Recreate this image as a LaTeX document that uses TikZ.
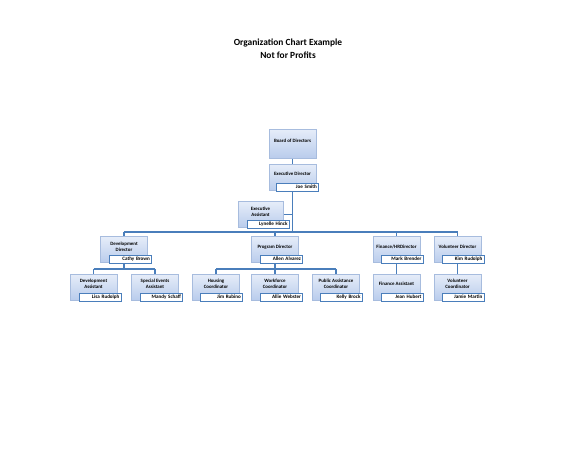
\documentclass[tikz,border=0pt]{standalone}
\usepackage{fontspec}
\setmainfont{Carlito}
\usepackage{tikz}
\usetikzlibrary{backgrounds}

\definecolor{boxtop}{HTML}{E6EDF9}
\definecolor{boxbottom}{HTML}{B9CCEC}
\definecolor{boxline}{HTML}{A7BCDE}
\definecolor{linkblue}{HTML}{4A7EBB}

\tikzset{
  orgbox/.style={rectangle, draw=boxline, top color=boxtop, bottom color=boxbottom,
    minimum width=47pt, minimum height=26pt, text depth=6pt, inner sep=1pt,
    align=center, font=\fontsize{4.9}{5.7}\selectfont\bfseries},
  nametag/.style={rectangle, draw=linkblue, fill=white, line width=0.5pt,
    anchor=south east, text width=39pt, align=right, inner xsep=1.5pt, inner ysep=1.6pt,
    text height=3.6pt, text depth=1.1pt,
    font=\fontsize{5.1}{5.7}\selectfont\bfseries},
  link/.style={draw=linkblue, line width=1.1pt}
}

\begin{document}
\begin{tikzpicture}[x=1pt, y=-1pt]
  \useasboundingbox (0,0) rectangle (585,450);
  % title
  \node[font=\fontsize{9.4}{12.8}\selectfont\bfseries, align=center] (title) at (288,48.5)
    {Organization Chart Example\\Not for Profits};
  % top of the chart
  \node[orgbox, minimum height=29pt] (board) at (292.5,143.5) {Board of Directors};
  \node[orgbox] (exec) at (292.5,177) {Executive Director};
  \node[nametag] (execname) at ([xshift=2.5pt,yshift=-1pt]exec.south east) {Joe Smith};
  \node[orgbox, minimum width=45pt] (assist) at (260.5,214.5) {Executive\\Assistant};
  \node[nametag] (assistname) at ([xshift=6pt,yshift=-1pt]assist.south east) {Lynelle Hinck};
  % directors
  \node[orgbox] (devdir) at (124,249.5) {Development\\Director};
  \node[nametag] (devdirname) at ([xshift=4pt,yshift=-1pt]devdir.south east) {Cathy Brown};
  \node[orgbox] (progdir) at (275,249.5) {Program Director};
  \node[nametag] (progdirname) at ([xshift=4pt,yshift=-1pt]progdir.south east) {Allen Alvarez};
  \node[orgbox] (findir) at (396.5,249.5) {Finance/HRDirector};
  \node[nametag] (findirname) at ([xshift=3pt,yshift=-1pt]findir.south east) {Mark Brender};
  \node[orgbox] (voldir) at (457.5,249.5) {Volunteer Director};
  \node[nametag] (voldirname) at ([xshift=3pt,yshift=-1pt]voldir.south east) {Kim Rudolph};
  % staff
  \node[orgbox] (devasst) at (93.5,287) {Development\\Assistant};
  \node[nametag] (devasstname) at ([xshift=4pt,yshift=-1pt]devasst.south east) {Lisa Rudolph};
  \node[orgbox] (events) at (155,287) {Special Events\\Assistant};
  \node[nametag] (eventsname) at ([xshift=4pt,yshift=-1pt]events.south east) {Mandy Schaff};
  \node[orgbox] (housing) at (216,287) {Housing\\Coordinator};
  \node[nametag] (housingname) at ([xshift=3pt,yshift=-1pt]housing.south east) {Jim Rubino};
  \node[orgbox] (workforce) at (275,287) {Workforce\\Coordinator};
  \node[nametag] (workforcename) at ([xshift=4pt,yshift=-1pt]workforce.south east) {Allie Webster};
  \node[orgbox] (pubassist) at (336,287) {Public Assistance\\Coordinator};
  \node[nametag] (pubassistname) at ([xshift=2.5pt,yshift=-1pt]pubassist.south east) {Kelly Brock};
  \node[orgbox] (finasst) at (396.5,287) {Finance Assistant};
  \node[nametag] (finasstname) at ([xshift=3pt,yshift=-1pt]finasst.south east) {Jean Hubert};
  \node[orgbox] (volcoord) at (457.5,287) {Volunteer\\Coordinator};
  \node[nametag] (volcoordname) at ([xshift=3pt,yshift=-1pt]volcoord.south east) {Jamie Martin};
  % connectors, behind the boxes
  \begin{pgfonlayer}{background}
    \coordinate (mainbus) at (292.5,232);
    \coordinate (devbus) at (124,269);
    \coordinate (progbus) at (275,269);
    \draw[link] (board) -- (exec) -- (mainbus);
    \draw[link] (assist.east) -- (assist.east -| exec.south);
    \draw[link] (mainbus -| devdir) -- (mainbus -| voldir);
    \foreach \d in {devdir, progdir, findir, voldir}
      \draw[link] (mainbus -| \d) -- (\d);
    \draw[link] (devdir) -- (devbus);
    \draw[link] (devbus -| devasst) -- (devbus -| events);
    \foreach \s in {devasst, events}
      \draw[link] (devbus -| \s) -- (\s);
    \draw[link] (progdir) -- (progbus);
    \draw[link] (progbus -| housing) -- (progbus -| pubassist);
    \foreach \s in {housing, workforce, pubassist}
      \draw[link] (progbus -| \s) -- (\s);
    \draw[link] (findir) -- (finasst);
    \draw[link] (voldir) -- (volcoord);
  \end{pgfonlayer}
\end{tikzpicture}
\end{document}
